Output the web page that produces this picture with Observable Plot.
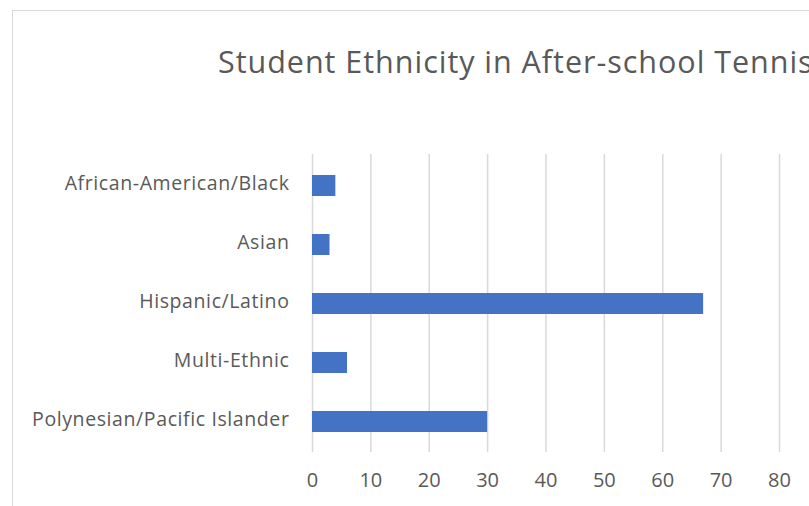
<!DOCTYPE html>
<html>
<head>
<meta charset="utf-8">
<script src="https://cdn.jsdelivr.net/npm/d3@7"></script>
<script src="https://cdn.jsdelivr.net/npm/@observablehq/plot@0.6"></script>
<style>
  html, body { margin: 0; padding: 0; background: #fff; }
  #wrap { position: relative; width: 809px; height: 506px; overflow: hidden; background: #fff; }
  #frame { position: absolute; left: 12px; top: 10px; width: 1200px; height: 800px; border: 1.5px solid #d9d9d9; box-sizing: border-box; }
  #title { position: absolute; left: 218px; top: 40px; font-family: "Open Sans", sans-serif; font-size: 30.5px; letter-spacing: 0.97px; color: #595959; white-space: nowrap; }
  #chart { position: absolute; left: 0; top: 0; }
  #chart svg g[aria-label="y-axis tick label"] text { letter-spacing: 0.6px; }
</style>
</head>
<body>
<div id="wrap">
  <div id="frame"></div>
  <div id="chart"></div>
  <div id="title">Student Ethnicity in After-school Tennis</div>
</div>
<script>
const categories = ["African-American/Black", "Asian", "Hispanic/Latino", "Multi-Ethnic", "Polynesian/Pacific Islander"];
const counts = [4, 3, 67, 6, 30];
const xTicks = [0, 10, 20, 30, 40, 50, 60, 70, 80];

const data = categories.map((c, i) => ({category: c, value: counts[i]}));

const chart = Plot.plot({
  width: 809,
  height: 506,
  marginLeft: 312,
  marginRight: 30,
  marginTop: 154,
  marginBottom: 54,
  style: {fontFamily: "'Open Sans', sans-serif", background: "transparent", color: "#595959"},
  x: {domain: [0, 80], ticks: xTicks},
  y: {domain: categories, paddingInner: 0.65, paddingOuter: 0.325},
  marks: [
    Plot.gridX(xTicks, {stroke: "#d9d9d9", strokeOpacity: 1, strokeWidth: 1.5}),
    Plot.barX(data, {x: "value", y: "category", fill: "#4472C4"}),
    Plot.axisX(xTicks, {tickSize: 0, tickPadding: 20, fontSize: 20, fill: "#595959", label: null}),
    Plot.axisY({tickSize: 0, tickPadding: 23, fontSize: 19.5, fill: "#595959", label: null, dy: -2})
  ]
});
document.getElementById("chart").appendChild(chart);
</script>
</body>
</html>
